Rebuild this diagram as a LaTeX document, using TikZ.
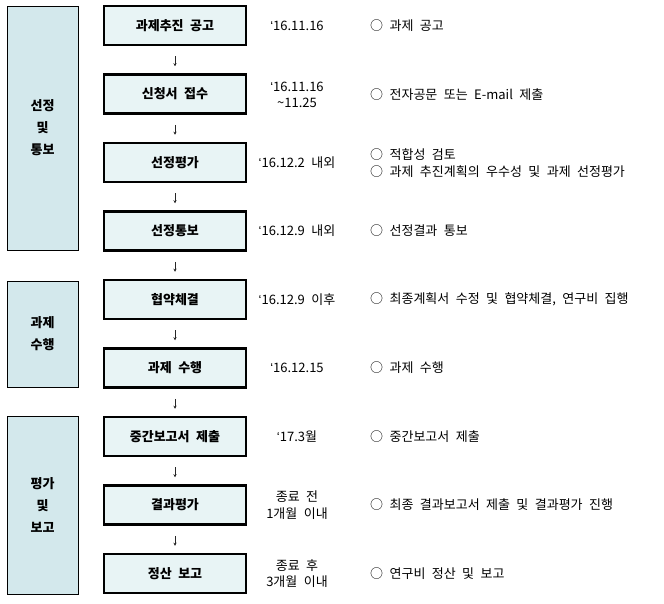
\documentclass[tikz,border=0pt]{standalone}
\usepackage{fontspec}
\setmainfont[WordSpace=2.2]{Noto Sans CJK KR}
\newfontfamily\latq{Liberation Sans}
\newcommand{\myquote}{{\latq ‘}}
\usetikzlibrary{arrows.meta}
\definecolor{sidefill}{HTML}{D3E8EC}
\definecolor{stepfill}{HTML}{E8F4F5}
\begin{document}
\begin{tikzpicture}[x=1pt,y=-1pt,
  sidebox/.style={draw=black, line width=1pt, fill=sidefill, minimum width=71pt, inner sep=0pt,
    align=center, font=\bfseries\fontsize{13}{22}\selectfont},
  stepbox/.style={draw=black, line width=2.5pt, fill=stepfill, minimum width=142pt, minimum height=39pt,
    inner sep=0pt, font=\bfseries\fontsize{13}{14}\selectfont},
  datetxt/.style={inner sep=0pt, align=center, font=\fontsize{13}{16.5}\selectfont},
  desc/.style={inner sep=0pt, anchor=west, align=left, font=\fontsize{13}{17}\selectfont},
  arr/.style={draw=black!85, line width=0.8pt, -{Stealth[length=3pt,width=3pt]}, shorten <=10pt, shorten >=7pt}
]
\useasboundingbox (0,0) rectangle (664,603);

% side boxes
\node[sidebox, minimum height=244pt] (L1) at (42.5,128) {선정\\및\\통보};
\node[sidebox, minimum height=106pt] (L2) at (42.5,334) {과제\\수행};
\node[sidebox, minimum height=178pt] (L3) at (42.5,505) {평가\\및\\보고};

% steps
\node[stepbox] (s1) at (175,25.5) {과제추진 공고};
\node[stepbox] (s2) at (175,94) {신청서 접수};
\node[stepbox] (s3) at (175,162.5) {선정평가};
\node[stepbox] (s4) at (175,231) {선정통보};
\node[stepbox] (s5) at (175,299.5) {협약체결};
\node[stepbox] (s6) at (175,368) {과제 수행};
\node[stepbox] (s7) at (175,436.5) {중간보고서 제출};
\node[stepbox] (s8) at (175,505) {결과평가};
\node[stepbox] (s9) at (175,573.5) {정산 보고};

\foreach \a/\b in {s1/s2,s2/s3,s3/s4,s4/s5,s5/s6,s6/s7,s7/s8,s8/s9}
  \draw[arr] (\a) -- (\b);

% dates
\node[datetxt] (d1) at (297,25.5) {\myquote16.11.16};
\node[datetxt] (d2) at (297,95) {\myquote16.11.16\\\char"7E 11.25};
\node[datetxt] (d3) at (297,162.5) {\myquote16.12.2 내외};
\node[datetxt] (d4) at (297,231) {\myquote16.12.9 내외};
\node[datetxt] (d5) at (297,299.5) {\myquote16.12.9 이후};
\node[datetxt] (d6) at (297,368) {\myquote16.12.15};
\node[datetxt] (d7) at (297,436.5) {\myquote17.3월};
\node[datetxt] (d8) at (297,505) {종료 전\\1개월 이내};
\node[datetxt] (d9) at (297,573.5) {종료 후\\3개월 이내};

% descriptions
\node[desc] (e1) at (370,25.5) {○ 과제 공고};
\node[desc] (e2) at (370,95) {○ 전자공문 또는 E-mail 제출};
\node[desc] (e3) at (370,163) {○ 적합성 검토\\○ 과제 추진계획의 우수성 및 과제 선정평가};
\node[desc] (e4) at (370,231) {○ 선정결과 통보};
\node[desc] (e5) at (370,299.5) {○ 최종계획서 수정 및 협약체결, 연구비 집행};
\node[desc] (e6) at (370,368) {○ 과제 수행};
\node[desc] (e7) at (370,436.5) {○ 중간보고서 제출};
\node[desc] (e8) at (370,505) {○ 최종 결과보고서 제출 및 결과평가 진행};
\node[desc] (e9) at (370,573.5) {○ 연구비 정산 및 보고};
\end{tikzpicture}
\end{document}
